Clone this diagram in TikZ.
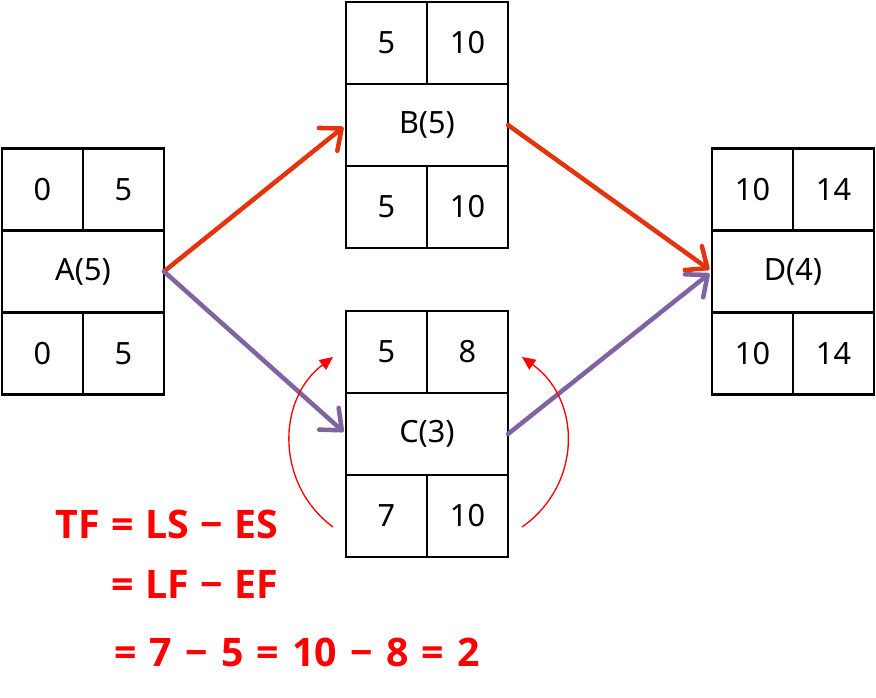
\documentclass[tikz,border=0pt]{standalone}
\usepackage{fontspec}
\setmainfont{Noto Sans}
\newfontfamily\tffont{Open Sans}
\usetikzlibrary{arrows.meta,calc}
\definecolor{arrred}{HTML}{E2340F}
\definecolor{arrpurple}{HTML}{8064A2}
\definecolor{tfred}{HTML}{FF0000}
\tikzset{
  cell/.style={draw=black, line width=1.6pt, inner sep=0pt, outer sep=0pt,
    minimum width=60.75pt, minimum height=61.5pt, font=\fontsize{23}{27}\selectfont},
  midcell/.style={cell, minimum width=121.5pt},
  mainarrow/.style={line width=3.4pt, line cap=round, shorten >=2.5pt,
    -{Straight Barb[length=13pt,width=22pt,line width=3.4pt,round]}},
  slackarrow/.style={draw=tfred, line width=1pt, -{Triangle[length=10pt,width=9pt]}},
  tftext/.style={text=tfred, font=\tffont\bfseries\fontsize{29.5}{34}\selectfont, anchor=base west, inner sep=0pt}
}
\newcommand\actbox[8]{%
  \node[midcell] (#1) at (#2,#3) {#4};
  \node[cell] (#1es) at ($(#2,#3)+(-40.5,-82)$) {#5};
  \node[cell] (#1ef) at ($(#2,#3)+(40.5,-82)$) {#6};
  \node[cell] (#1ls) at ($(#2,#3)+(-40.5,82)$) {#7};
  \node[cell] (#1lf) at ($(#2,#3)+(40.5,82)$) {#8};
}
\newcommand\tsp{\hspace{8.6pt}}
\newcommand\tspb{\hspace{9.9pt}}
\begin{document}
\begin{tikzpicture}[x=0.75pt,y=-0.75pt]
\useasboundingbox (0,0) rectangle (876,698);
\actbox{A}{83}{271.5}{A(5)}{0}{5}{0}{5}
\actbox{B}{427}{125}{B(5)}{5}{10}{5}{10}
\actbox{C}{427}{434}{C(3)}{5}{8}{7}{10}
\actbox{D}{793}{271.5}{D(4)}{10}{14}{10}{14}
\draw[mainarrow, arrred] (A.east) -- (B.west);
\draw[mainarrow, arrred] (B.east) -- (D.west);
\draw[mainarrow, arrpurple] (A.east) -- (C.west);
\draw[mainarrow, arrpurple] (C.east) -- (D.west);
\coordinate (l1) at (333,527);
\coordinate (l2) at (333,357);
\coordinate (r1) at (522,527);
\coordinate (r2) at (522,357);
\draw[slackarrow] (l1) .. controls (276,485) and (276,400) .. (l2);
\draw[slackarrow] (r1) .. controls (582,485) and (582,400) .. (r2);
\node[tftext] (t1) at (55,539) {TF\tsp=\tsp LS\tsp−\tsp ES};
\node[tftext] (t2) at (111,599) {=\tsp LF\tsp−\tsp EF};
\node[tftext] (t3) at (114,667) {=\tspb 7\tspb−\tspb 5\tspb=\tspb 10\tspb−\tspb 8\tspb=\tspb 2};
\end{tikzpicture}
\end{document}
